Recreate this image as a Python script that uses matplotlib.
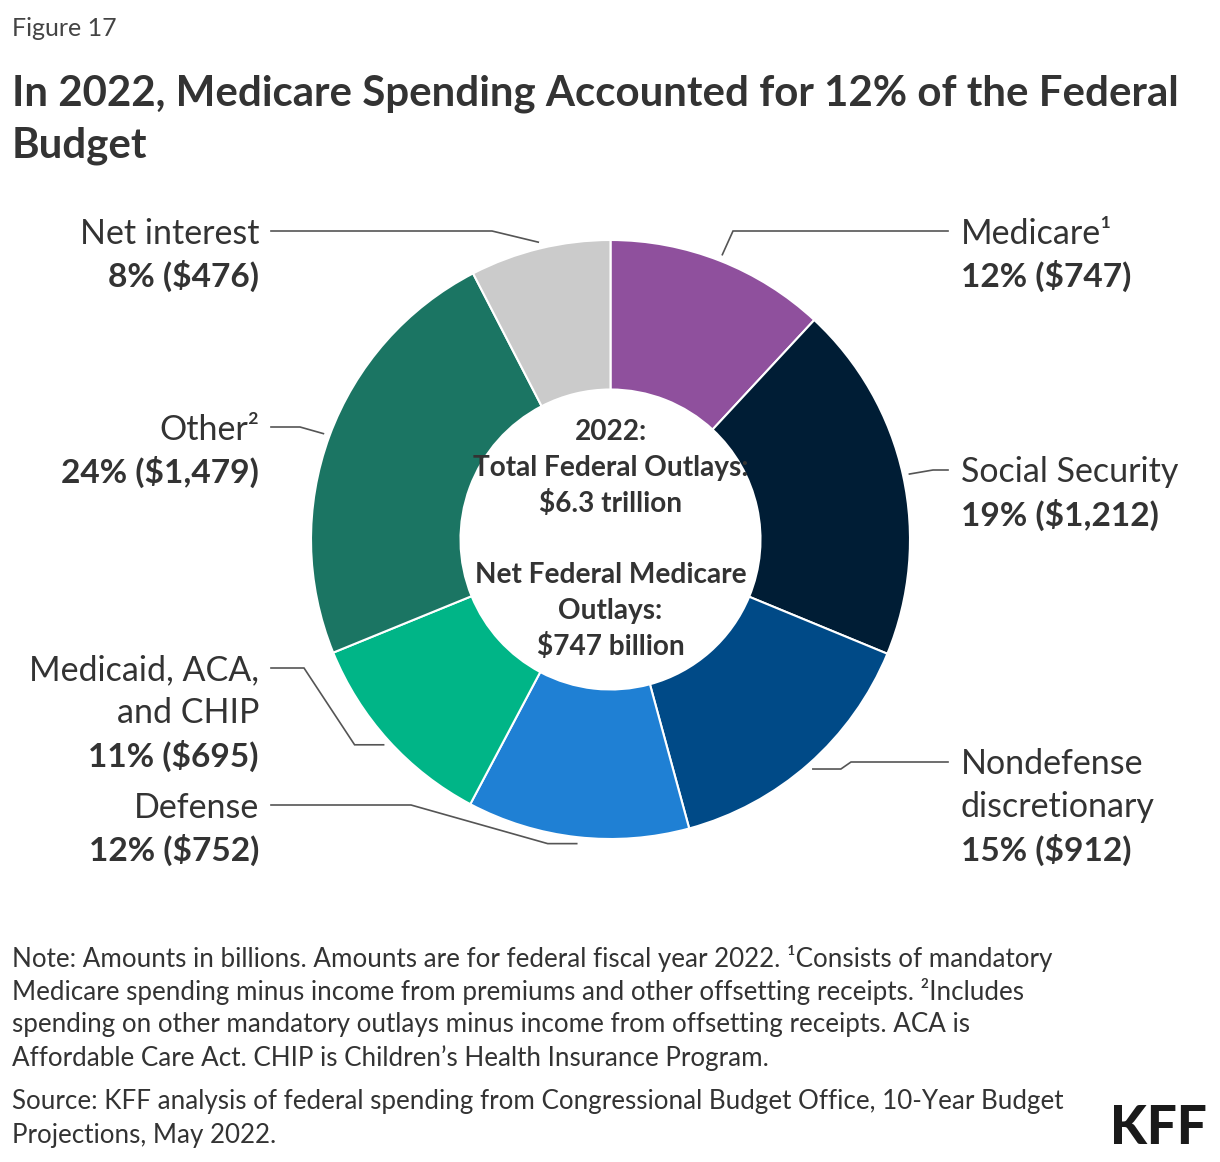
import numpy as np
import matplotlib
matplotlib.use("Agg")
import matplotlib.pyplot as plt

# data (billions of dollars, FY2022)
categories = ["Medicare", "Social Security", "Nondefense discretionary", "Defense",
              "Medicaid, ACA, and CHIP", "Other", "Net interest"]
label_names = ["Medicare\u00b9", "Social Security", "Nondefense\ndiscretionary", "Defense",
               "Medicaid, ACA,\nand CHIP", "Other\u00b2", "Net interest"]
amounts = [747, 1212, 912, 752, 695, 1479, 476]
shares = [12, 19, 15, 12, 11, 24, 8]
colors = ["#8F509D", "#001D35", "#004A87", "#1F80D4", "#00B587", "#1B7563", "#CBCBCB"]

# label layout: side, y of first line, elbow x, stub length (pixels)
label_side = ["right", "right", "right", "left", "left", "left", "left"]
label_y = [231, 470, 762, 805, 668, 427, 231]
elbow_x = [733, 933, 851, 411, 304, 300, 492]
stub = [0, 0, 28, 29, 29, 0, 0]

W, H = 1220, 1162
cx, cy = 610.5, 539.5
r_out, r_in = 299.5, 150
txt = "#333333"
font = "Lato"

def pt(px):
    return px * 0.72

fig = plt.figure(figsize=(12.2, 11.62), dpi=100)
ax = fig.add_axes([0, 0, 1, 1])

wedges, _ = ax.pie(amounts, colors=colors, startangle=-90, counterclock=True,
                   center=(cx, cy), radius=r_out,
                   wedgeprops=dict(width=r_out - r_in, edgecolor="white", linewidth=1.5))
ax.set_xlim(0, W)
ax.set_ylim(H, 0)
ax.set_aspect("auto")
ax.axis("off")

# leader lines + labels
line_h = 42.5
for i, w in enumerate(wedges):
    mid = np.deg2rad((w.theta1 + w.theta2) / 2)
    ax_x = cx + 306 * np.cos(mid)
    ax_y = cy + 306 * np.sin(mid)
    sgn = -1 if label_side[i] == "left" else 1
    end_x = 271 if label_side[i] == "left" else 948
    xs = [ax_x, ax_x + sgn * stub[i], elbow_x[i], end_x]
    ys = [ax_y, ax_y, label_y[i], label_y[i]]
    ax.plot(xs, ys, color="#555555", lw=1.2, solid_joinstyle="miter")

    tx = 259 if label_side[i] == "left" else 961
    ha = "right" if label_side[i] == "left" else "left"
    lines = label_names[i].split("\n")
    for j, s in enumerate(lines):
        ax.text(tx, label_y[i] + 2.5 + j * line_h, s, ha=ha, va="center",
                fontsize=pt(34), color=txt, family=font)
    ax.text(tx, label_y[i] + 2.5 + len(lines) * line_h,
            f"{shares[i]}% (${amounts[i]:,})", ha=ha, va="center",
            fontsize=pt(33.5), color=txt, family=font, fontweight="bold", parse_math=False)

# centre text
total = sum(amounts) / 1000
center_lines = ["2022:", "Total Federal Outlays:", f"${total:.1f} trillion", "",
                "Net Federal Medicare", "Outlays:", f"${amounts[0]} billion"]
for j, s in enumerate(center_lines):
    ax.text(cx, 432 + j * 35.8, s, ha="center", va="center", fontsize=pt(28),
            color=txt, family=font, fontweight="bold", parse_math=False)

# titles
fig.text(12 / W, 1 - 28 / H, "Figure 17", ha="left", va="center",
         fontsize=pt(25), color="#444444", family=font)
fig.text(12 / W, 1 - 94 / H, "In 2022, Medicare Spending Accounted for 12% of the Federal",
         ha="left", va="center", fontsize=pt(42), color=txt, family=font, fontweight="bold")
fig.text(12 / W, 1 - 146 / H, "Budget",
         ha="left", va="center", fontsize=pt(42), color=txt, family=font, fontweight="bold")

# notes
notes = ["Note: Amounts in billions. Amounts are for federal fiscal year 2022. \u00b9Consists of mandatory",
         "Medicare spending minus income from premiums and other offsetting receipts. \u00b2Includes",
         "spending on other mandatory outlays minus income from offsetting receipts. ACA is",
         "Affordable Care Act. CHIP is Children\u2019s Health Insurance Program."]
for j, s in enumerate(notes):
    fig.text(12 / W, 1 - (958 + j * 33.2) / H, s, ha="left", va="center",
             fontsize=pt(26), color=txt, family=font)
source = ["Source: KFF analysis of federal spending from Congressional Budget Office, 10-Year Budget",
          "Projections, May 2022."]
for j, s in enumerate(source):
    fig.text(12 / W, 1 - (1102 + j * 33.2) / H, s, ha="left", va="center",
             fontsize=pt(26), color=txt, family=font)

fig.text(1207 / W, 1 - 1128 / H, "KFF", ha="right", va="center",
         fontsize=pt(53), color="#1a1a1a", family=font, fontweight="black")

fig.savefig("out.png", dpi=100)
